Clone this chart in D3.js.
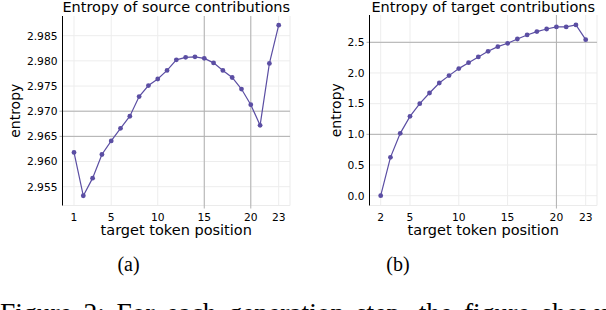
<!DOCTYPE html>
<html>
<head>
<meta charset="utf-8">
<script src="https://cdn.jsdelivr.net/npm/d3@7"></script>
<style>
body{margin:0;background:#fff;}
svg{display:block;}
text{font-family:"DejaVu Sans",sans-serif;fill:#000;}
.cap{font-family:"Liberation Serif","Times New Roman",serif;}
</style>
</head>
<body>
<div id="fig"></div>
<script>
const width = 606;
const height = 310;

// data
const srcPos = d3.range(1,24);
const srcEntropy = [2.9618,2.9532,2.9567,2.9614,2.9641,2.9666,2.9690,2.9729,2.9751,2.9764,2.9781,2.9802,
2.9807,2.9808,2.9805,2.9796,2.9781,2.9767,2.9744,2.9713,2.9672,2.9795,2.9871];
const srcYTicks = [2.955,2.960,2.965,2.970,2.975,2.980,2.985];
const srcXTicks = [1,5,10,15,20,23];
const srcDarkY = [2.965,2.970];
const srcDarkX = [15,20];

const tgtPos = d3.range(2,24);
const tgtEntropy = [0.0,0.625,1.016,1.293,1.50,1.674,1.837,1.957,2.071,2.168,2.261,2.353,
2.429,2.484,2.554,2.62,2.674,2.717,2.75,2.75,2.783,2.543];
const tgtYTicks = [0.0,0.5,1.0,1.5,2.0,2.5];
const tgtXTicks = [2,5,10,15,20,23];
const tgtDarkY = [1.0,2.5];
const tgtDarkX = [20];

const captionWords = ["Figure","2:","For","each","generation","step,","the","figure","shows"];

const purple = "#5b4ea3";

const svg = d3.select("#fig")
.append("svg")
.attr("width",width)
.attr("height",height);

function panel(opt){
const g = svg.append("g");
const x = d3.scaleLinear().domain(opt.xDom).range(opt.xRange);
const y = d3.scaleLinear().domain(opt.yDom).range(opt.yRange);
const L = opt.box[0], R = opt.box[1], T = opt.box[2], B = opt.box[3];

// light grid
g.selectAll(".gy").data(opt.yTicks).enter().append("line")
.attr("x1",L).attr("x2",R)
.attr("y1",d=>y(d)).attr("y2",d=>y(d))
.attr("stroke","#ededed").attr("stroke-width",1);
g.selectAll(".gx").data(opt.xTicks).enter().append("line")
.attr("x1",d=>x(d)).attr("x2",d=>x(d))
.attr("y1",T).attr("y2",B)
.attr("stroke","#ededed").attr("stroke-width",1);

// faint frame right/bottom
g.append("path")
.attr("d",`M${R},${T}V${B}H${L}`)
.attr("fill","none").attr("stroke","#ebebeb");

// dark grid lines
g.selectAll(".dy").data(opt.darkY).enter().append("line")
.attr("x1",L-3).attr("x2",R)
.attr("y1",d=>y(d)).attr("y2",d=>y(d))
.attr("stroke","#b0b0b0").attr("stroke-width",1);
g.selectAll(".dx").data(opt.darkX).enter().append("line")
.attr("x1",d=>x(d)).attr("x2",d=>x(d))
.attr("y1",T).attr("y2",B+3)
.attr("stroke","#b0b0b0").attr("stroke-width",1);

// left spine
g.append("line")
.attr("x1",L).attr("x2",L).attr("y1",T).attr("y2",B)
.attr("stroke","#000").attr("stroke-width",1);

// tick labels
g.selectAll(".ty").data(opt.yTicks).enter().append("text")
.attr("x",L-5).attr("y",d=>y(d)+3.8)
.attr("text-anchor","end")
.attr("font-size",10.7)
.text(opt.yFmt);
g.selectAll(".tx").data(opt.xTicks).enter().append("text")
.attr("x",d=>x(d)).attr("y",B+15)
.attr("text-anchor","middle")
.attr("font-size",10.7)
.text(d=>d);

// line + points
const line = d3.line().x((d,i)=>x(opt.xs[i])).y(d=>y(d));
g.append("path")
.datum(opt.ys)
.attr("fill","none")
.attr("stroke",purple)
.attr("stroke-width",1.2)
.attr("d",line);
g.selectAll("circle").data(opt.ys).enter().append("circle")
.attr("cx",(d,i)=>x(opt.xs[i]))
.attr("cy",d=>y(d))
.attr("r",2.4)
.attr("fill",purple);

// title + labels
g.append("text")
.attr("x",(L+R)/2).attr("y",11.5)
.attr("text-anchor","middle")
.attr("font-size",14.5)
.text(opt.title);
g.append("text")
.attr("x",(L+R)/2).attr("y",235)
.attr("text-anchor","middle")
.attr("font-size",14.5)
.text("target token position");
g.append("text")
.attr("transform",`translate(${opt.yLabX},${(T+B)/2}) rotate(-90)`)
.attr("text-anchor","middle")
.attr("font-size",14)
.text("entropy");
g.append("text")
.attr("class","cap")
.attr("x",opt.capX).attr("y",270.5)
.attr("text-anchor","middle")
.attr("font-size",20)
.text(opt.cap);
}

panel({
xs:srcPos, ys:srcEntropy,
xDom:[1,23], xRange:[74,278.7],
yDom:[2.955,2.985], yRange:[186.7,35.7],
box:[62.5,290,16,205.5],
yTicks:srcYTicks, xTicks:srcXTicks,
darkY:srcDarkY, darkX:srcDarkX,
yFmt:d3.format(".3f"),
title:"Entropy of source contributions",
yLabX:19.5, capX:128.5, cap:"(a)"
});

panel({
xs:tgtPos, ys:tgtEntropy,
xDom:[2,23], xRange:[380.7,585.7],
yDom:[0,2.5], yRange:[195.7,42.3],
box:[369.5,597,15,205.5],
yTicks:tgtYTicks, xTicks:tgtXTicks,
darkY:tgtDarkY, darkX:tgtDarkX,
yFmt:d3.format(".1f"),
title:"Entropy of target contributions",
yLabX:341, capX:398, cap:"(b)"
});

// figure caption, justified word by word across the width (bottom clipped like the page)
const capG = svg.append("g").attr("class","caption");
const words = capG.selectAll("text").data(captionWords).enter().append("text")
.attr("class","cap")
.attr("y",321.5)
.attr("font-size",27.5)
.text(d=>d);
const widths = [];
words.each(function(){ widths.push(this.getComputedTextLength()); });
const gap = (610 - d3.sum(widths)) / (captionWords.length - 1);
let cx = 0;
words.attr("x",(d,i)=>{ const p = cx; cx += widths[i] + gap; return p; });
</script>
</body>
</html>
